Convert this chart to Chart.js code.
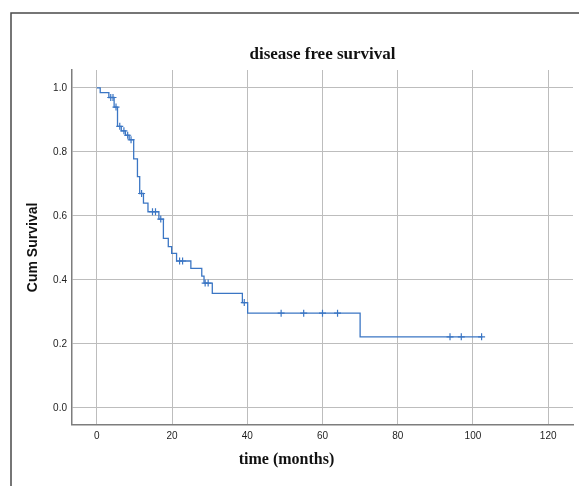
<!DOCTYPE html>
<html>
<head>
<meta charset="utf-8">
<script src="https://cdn.jsdelivr.net/npm/chart.js@4/dist/chart.umd.min.js"></script>
<style>
  body { margin: 0; background: #fff; }
  #wrap { width: 579px; height: 486px; }
</style>
</head>
<body>
<div id="wrap"><canvas id="myChart" width="579" height="486"></canvas></div>
<script>
// Kaplan-Meier steps: time (months) and survival after each event
var kmTimes = [0, 0.9, 3.2, 4.6, 5.5, 6.5, 7.6, 8.6, 9.8, 10.8, 11.4, 12.4, 13.6, 16.5, 17.7, 19.0, 19.9, 21.2, 25.0, 27.9, 28.5, 30.7, 38.7, 40.1, 70.0, 102.5];
var kmSurvival = [1, 0.985, 0.970, 0.940, 0.880, 0.866, 0.852, 0.838, 0.778, 0.723, 0.670, 0.640, 0.613, 0.590, 0.530, 0.504, 0.483, 0.459, 0.436, 0.412, 0.390, 0.358, 0.329, 0.296, 0.222, 0.222];

// censored cases
var censorTimes = [3.7, 4.3, 5.1, 6.1, 7.2, 8.2, 9.1, 11.9, 14.8, 15.6, 17.0, 22.0, 22.8, 28.8, 29.6, 39.2, 49.0, 55.0, 60.0, 64.0, 93.9, 96.9, 102.3];
var censorSurvival = [0.970, 0.970, 0.940, 0.880, 0.866, 0.852, 0.838, 0.670, 0.613, 0.613, 0.590, 0.459, 0.459, 0.390, 0.390, 0.329, 0.296, 0.296, 0.296, 0.296, 0.222, 0.222, 0.222];

// tick labels
var xTicks = [0, 20, 40, 60, 80, 100, 120];
var yTicks = [0, 0.2, 0.4, 0.6, 0.8, 1.0];

function toPoints(xs, ys) {
    var pts = [];
    for (var i = 0; i < xs.length; i++) {
        pts.push({ x: xs[i], y: ys[i] });
    }
    return pts;
}

var lineColor = '#3b76c4';
var gridColor = '#bdbdbd';
var axisColor = '#7d7d7d';

// white background + outer frame
var framePlugin = {
    id: 'frame',
    beforeDraw: function (chart) {
        var c = chart.ctx;
        c.save();
        c.fillStyle = '#fff';
        c.fillRect(0, 0, chart.width, chart.height);
        c.strokeStyle = '#4a4a4a';
        c.lineWidth = 1.5;
        c.strokeRect(11, 13, 700, 600);
        c.restore();
    }
};

var ctx = document.getElementById('myChart');
var myChart = new Chart(ctx, {
    type: 'line',
    data: {
        datasets: [{
            label: 'Survival',
            data: toPoints(kmTimes, kmSurvival),
            stepped: true,
            borderColor: lineColor,
            borderWidth: 1.3,
            pointRadius: 0,
            fill: false
        }, {
            label: 'Censored',
            type: 'scatter',
            data: toPoints(censorTimes, censorSurvival),
            pointStyle: 'cross',
            pointRadius: 3.5,
            borderColor: lineColor,
            borderWidth: 1.2,
            showLine: false
        }]
    },
    options: {
        responsive: false,
        animation: false,
        layout: { padding: { left: 0, right: 6, top: 0, bottom: 0 } },
        plugins: {
            legend: { display: false },
            tooltip: { enabled: false },
            title: {
                display: true,
                text: 'disease free survival',
                fullSize: false,
                color: '#111',
                font: { family: 'Liberation Serif', size: 17, weight: 'bold' },
                padding: { top: 44, bottom: 5.6 }
            },
            subtitle: {
                display: true,
                position: 'bottom',
                text: 'time (months)',
                fullSize: true,
                color: '#111',
                font: { family: 'Liberation Serif', size: 16, weight: 'bold' },
                padding: { top: 5, bottom: 17 }
            }
        },
        scales: {
            x: {
                type: 'linear',
                min: -6.6,
                max: 126.6,
                afterBuildTicks: function (axis) {
                    axis.ticks = xTicks.map(function (v) { return { value: v }; });
                },
                afterFit: function (axis) { axis.height = 20; },
                grid: { color: gridColor, lineWidth: 1, drawTicks: false },
                border: { display: true, color: axisColor, width: 1.5 },
                ticks: {
                    color: '#1e1e1e',
                    padding: 5,
                    maxRotation: 0,
                    autoSkip: false,
                    font: { family: 'Liberation Sans', size: 10 }
                }
            },
            y: {
                type: 'linear',
                min: -0.053,
                max: 1.056,
                afterBuildTicks: function (axis) {
                    axis.ticks = yTicks.map(function (v) { return { value: v }; });
                },
                afterFit: function (axis) { axis.width = 72; },
                grid: { color: gridColor, lineWidth: 1, drawTicks: false },
                border: { display: true, color: axisColor, width: 1.5 },
                ticks: {
                    color: '#1e1e1e',
                    padding: 5,
                    font: { family: 'Liberation Sans', size: 10 },
                    callback: function (v) { return v.toFixed(1); }
                },
                title: {
                    display: true,
                    text: 'Cum Survival',
                    color: '#111',
                    font: { family: 'Liberation Sans', size: 14, weight: 'bold' },
                    padding: { top: 25, bottom: 0 }
                }
            }
        }
    },
    plugins: [framePlugin]
});
</script>
</body>
</html>
